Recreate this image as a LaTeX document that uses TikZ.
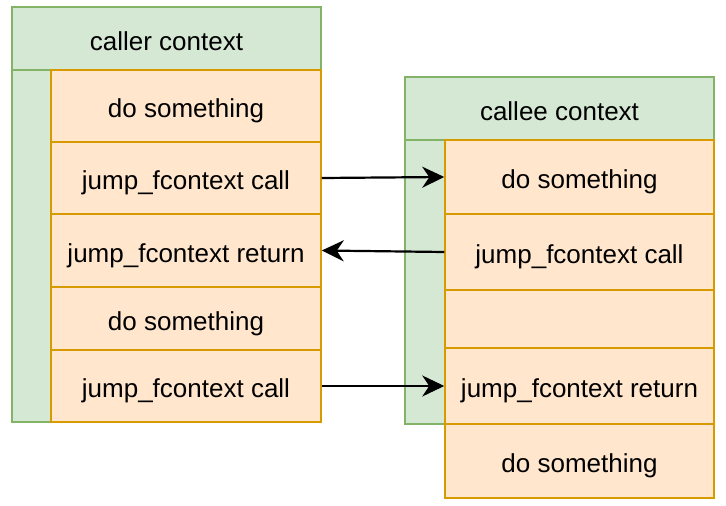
\documentclass[tikz,border=0pt]{standalone}
\usepackage{fontspec}
\setmainfont{Liberation Sans}
\usetikzlibrary{arrows.meta}
\definecolor{ctxfill}{HTML}{D5E8D4}
\definecolor{ctxline}{HTML}{82B366}
\definecolor{stepfill}{HTML}{FFE6CC}
\definecolor{stepline}{HTML}{D79B00}

\begin{document}
\begin{tikzpicture}[x=1pt, y=-1pt,
  ctx/.style={draw=ctxline, fill=ctxfill, line width=1.5pt, inner sep=0pt, text height=23pt, text depth=0pt, font=\fontsize{26}{30}\selectfont},
  stepbox/.style={draw=stepline, fill=stepfill, line width=1.5pt, inner sep=0pt, text height=23pt, text depth=0pt, font=\fontsize{26}{30}\selectfont},
  jump/.style={-{Stealth[length=22pt, width=21pt, inset=7pt]}, line width=2.2pt}]
\useasboundingbox (0,0) rectangle (726,506);

% caller context
\node[ctx, minimum width=309pt, minimum height=63pt] (caller) at (166.5, 38.5) {caller context};
\node[ctx, minimum width=39pt, minimum height=352pt] (cstrip) at (31.5, 246) {};
\node[stepbox, minimum width=270pt, minimum height=72pt] (a1) at (186, 106) {do something};
\node[stepbox, minimum width=270pt, minimum height=72pt] (a2) at (186, 178) {jump\_fcontext call};
\node[stepbox, minimum width=270pt, minimum height=73pt] (a3) at (186, 250.5) {jump\_fcontext return};
\node[stepbox, minimum width=270pt, minimum height=63pt] (a4) at (186, 318.5) {do something};
\node[stepbox, minimum width=270pt, minimum height=72pt] (a5) at (186, 386) {jump\_fcontext call};

% callee context
\node[ctx, minimum width=309pt, minimum height=63pt] (callee) at (559.5, 108.5) {callee context};
\node[ctx, minimum width=40pt, minimum height=284pt] (estrip) at (425, 282) {};
\node[stepbox, minimum width=269pt, minimum height=74pt] (b1) at (579.5, 177) {do something};
\node[stepbox, minimum width=269pt, minimum height=76pt] (b2) at (579.5, 252) {jump\_fcontext call};
\node[stepbox, minimum width=269pt, minimum height=58pt] (b3) at (579.5, 319) {};
\node[stepbox, minimum width=269pt, minimum height=76pt] (b4) at (579.5, 386) {jump\_fcontext return};
\node[stepbox, minimum width=269pt, minimum height=74pt] (b5) at (579.5, 461) {do something};

\draw[jump] (a2.east) -- (b1.west);
\draw[jump] (b2.west) -- (a3.east);
\draw[jump] (a5.east) -- (b4.west);
\end{tikzpicture}
\end{document}
